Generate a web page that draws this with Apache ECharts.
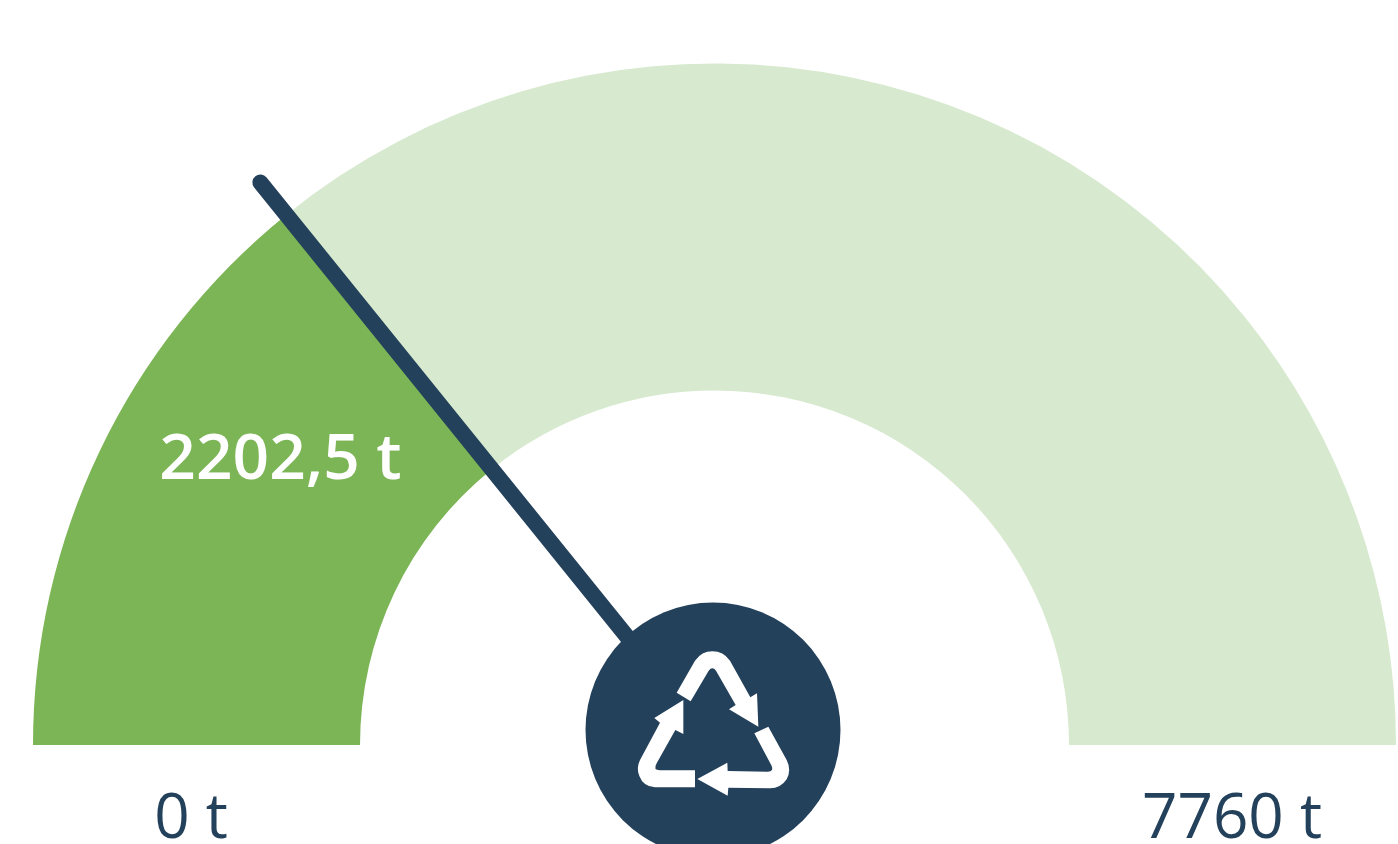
<!DOCTYPE html>
<html>
<head>
<meta charset="utf-8">
<style>
  html, body { margin: 0; padding: 0; background: #fff; overflow: hidden; }
  #chart { width: 1398px; height: 844px; }
</style>
<script src="https://cdn.jsdelivr.net/npm/echarts@6/dist/echarts.min.js"></script>
</head>
<body>
<div id="chart"></div>
<script>
// data
const minValue = [0];
const maxValue = [7760];
const currentValue = [2202.5];
const unit = ['t'];

const navy = '#24415c';
const green = '#7cb556';
const lightGreen = '#d7e9ce';

// comma as decimal mark
const fmt = function (v) {
  return String(v).replace('.', ',') + ' ' + unit[0];
};

// recycling icon, traced at 3x and scaled down in the group below
const recycleIcon = [
  'M350,308 L392,334 L446,242 Q457,228 468,242 L527,345 L507,358 L595,410 L591,310 L571,322 L510,212 Q490,184 457,184 Q425,184 405,212 Z',
  'M583,430 L625,410 L680,510 Q695,540 680,568 Q662,595 630,595 L505,593 L503,617 L412,567 L502,518 L503,543 L622,545 Q645,545 632,522 Z',
  'M405,541 L405,592 L285,592 Q250,590 238,558 Q228,535 240,510 L300,398 L283,384 L370,330 L370,432 L346,420 L290,520 Q278,541 300,541 Z'
];
recycleIcon.forEach(function (d, i) {
  echarts.graphic.registerShape('recycle' + i, echarts.graphic.extendPath(d, {}));
});

const myChart = echarts.init(document.getElementById('chart'));
const option = {
  animation: false,
  backgroundColor: '#fff',
  series: [
    {
      type: 'gauge',
      center: [714.5, 745],
      radius: 681.5,
      startAngle: 180,
      endAngle: 0,
      min: minValue[0],
      max: maxValue[0],
      data: [{ value: currentValue[0] }],
      axisLine: {
        roundCap: false,
        lineStyle: {
          width: 327,
          color: [
            [currentValue[0] / maxValue[0], green],
            [1, lightGreen]
          ]
        }
      },
      axisTick: { show: false },
      splitLine: { show: false },
      axisLabel: { show: false },
      pointer: {
        icon: 'path://M0,8A8,8,0,0,1,16,8V731H0Z',
        length: 731,
        width: 16,
        itemStyle: { color: navy }
      },
      anchor: {
        show: true,
        showAbove: true,
        size: 255,
        offsetCenter: [-1.5, -15],
        itemStyle: { color: navy, borderWidth: 0 }
      },
      title: { show: false },
      detail: {
        show: true,
        offsetCenter: [-434, -284],
        valueAnimation: false,
        formatter: fmt,
        color: '#fff',
        fontFamily: 'Open Sans',
        fontWeight: 600,
        fontSize: 64
      }
    }
  ],
  graphic: [
    {
      type: 'group',
      x: 560,
      y: 590,
      scaleX: 1 / 3,
      scaleY: 1 / 3,
      z: 100,
      silent: true,
      children: recycleIcon.map(function (d, i) {
        return { type: 'recycle' + i, style: { fill: '#fff' }, z: 100 };
      })
    },
    {
      type: 'text',
      x: 191,
      y: 820,
      z: 100,
      style: {
        text: fmt(minValue[0]),
        fill: navy,
        font: '400 62px "Open Sans"',
        textAlign: 'center',
        textVerticalAlign: 'middle'
      }
    },
    {
      type: 'text',
      x: 1232,
      y: 820,
      z: 100,
      style: {
        text: fmt(maxValue[0]),
        fill: navy,
        font: '400 62px "Open Sans"',
        textAlign: 'center',
        textVerticalAlign: 'middle'
      }
    }
  ]
};

option && myChart.setOption(option);
</script>
</body>
</html>
